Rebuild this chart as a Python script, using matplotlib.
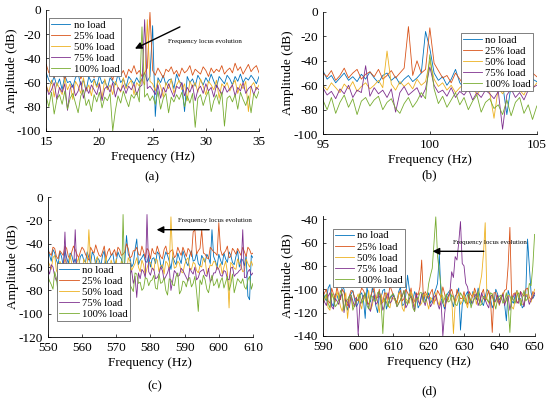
import numpy as np
import matplotlib
matplotlib.use('Agg')
import matplotlib.pyplot as plt

plt.rcParams['font.family'] = ['Liberation Serif', 'DejaVu Serif']
plt.rcParams['xtick.direction'] = 'in'
plt.rcParams['ytick.direction'] = 'in'
plt.rcParams['axes.unicode_minus'] = False

labels = ['no load', '25% load', '50% load', '75% load', '100% load']
colors = ['#0072BD', '#D95319', '#EDB120', '#7E2F8E', '#77AC30']

# ---- (a) 15-35 Hz, step 0.25 Hz ----
freq_a = np.arange(15, 35.001, 0.25)
a_noload = [-52, -58, -61, -55, -63, -57, -66, -54, -60, -59,
            -64, -56, -53, -62, -58, -67, -55, -60, -57, -63,
            -54, -61, -58, -65, -56, -59, -62, -53, -60, -57,
            -64, -55, -58, -61, -56, -60, -57, -52, -59, -55,
            -13, -88, -56, -60, -54, -62, -58, -57, -65, -53,
            -59, -61, -84, -55, -60, -57, -63, -54, -58, -62,
            -56, -60, -53, -59, -64, -55, -58, -61, -54, -57,
            -62, -55, -59, -53, -60, -56, -58, -54, -57, -61,
            -55]
a_25 = [-45, -52, -50, -56, -48, -54, -51, -58, -49, -53,
        -55, -50, -47, -57, -52, -49, -54, -51, -56, -48,
        -53, -50, -55, -49, -52, -58, -47, -51, -54, -50,
        -56, -49, -52, -46, -53, -50, -55, -52, -48, -2,
        -50, -54, -48, -52, -56, -49, -51, -47, -53, -50,
        -55, -48, -52, -50, -46, -54, -49, -51, -53, -47,
        -50, -55, -48, -52, -49, -51, -46, -53, -50, -48,
        -52, -44, -50, -47, -53, -49, -45, -51, -48, -46,
        -52]
a_50 = [-62, -68, -58, -72, -60, -65, -70, -57, -66, -61,
        -74, -59, -63, -69, -56, -67, -62, -71, -58, -64,
        -60, -73, -57, -66, -62, -70, -59, -64, -68, -56,
        -65, -61, -58, -70, -60, -63, -57, -62, -8, -59,
        -61, -67, -58, -63, -72, -60, -65, -57, -69, -62,
        -58, -66, -61, -75, -59, -64, -60, -68, -57, -63,
        -70, -59, -62, -66, -58, -73, -61, -64, -60, -67,
        -62, -58, -69, -61, -65, -59, -84, -63, -60, -66,
        -62]
a_75 = [-63, -70, -66, -60, -74, -64, -68, -61, -83, -65,
        -62, -71, -67, -59, -73, -64, -69, -62, -66, -70,
        -61, -75, -65, -63, -68, -60, -72, -64, -67, -62,
        -69, -63, -66, -61, -70, -64, -62, -8, -65, -63,
        -66, -70, -62, -73, -64, -68, -61, -67, -72, -63,
        -65, -60, -71, -64, -68, -62, -75, -66, -63, -69,
        -61, -67, -64, -72, -62, -66, -70, -63, -68, -65,
        -62, -71, -64, -67, -60, -69, -65, -63, -70, -64,
        -66]
a_100 = [-72, -80, -68, -86, -74, -70, -78, -67, -82, -73,
         -69, -77, -85, -71, -66, -79, -74, -84, -70, -76,
         -68, -81, -72, -75, -69, -100, -83, -71, -77, -67,
         -74, -80, -70, -73, -68, -76, -14, -72, -69, -75,
         -71, -78, -67, -82, -73, -69, -85, -72, -76, -70,
         -74, -68, -80, -71, -77, -69, -97, -73, -70, -79,
         -72, -67, -84, -75, -70, -78, -68, -96, -73, -71,
         -76, -70, -82, -68, -74, -79, -71, -85, -69, -73,
         -67]

# ---- (b) 95-105 Hz, step 0.2 Hz ----
freq_b = np.arange(95, 105.001, 0.2)
b_noload = [-48, -55, -52, -58, -54, -50, -56, -53, -57, -51,
            -55, -49, -54, -58, -52, -50, -56, -53, -59, -55,
            -52, -57, -54, -50, -16, -30, -50, -56, -53, -60,
            -55, -47, -58, -62, -56, -60, -54, -65, -58, -61,
            -57, -63, -59, -84, -60, -56, -62, -58, -61, -55, -57]
b_25 = [-50, -53, -48, -56, -52, -46, -54, -50, -47, -55,
        -51, -49, -53, -47, -55, -52, -48, -54, -50, -46,
        -12, -52, -40, -50, -47, -13, -42, -48, -54, -52,
        -58, -50, -55, -60, -53, -57, -62, -56, -59, -54,
        -61, -57, -63, -58, -55, -60, -56, -52, -58, -50, -53]
b_50 = [-60, -64, -58, -62, -66, -59, -63, -57, -65, -61,
        -58, -63, -60, -56, -62, -32, -59, -64, -57, -61,
        -58, -63, -55, -60, -57, -40, -55, -61, -58, -64,
        -60, -66, -62, -59, -65, -61, -68, -63, -60, -66,
        -87, -62, -67, -61, -65, -59, -64, -68, -60, -63, -58]
b_75 = [-62, -68, -65, -71, -63, -67, -60, -70, -64, -66,
        -44, -69, -62, -67, -64, -70, -63, -82, -66, -61,
        -68, -65, -62, -70, -63, -45, -60, -66, -64, -69,
        -62, -70, -65, -68, -63, -72, -66, -70, -64, -67,
        -71, -65, -96, -68, -63, -70, -66, -72, -64, -62, -60]
b_100 = [-72, -80, -70, -83, -74, -68, -78, -71, -84, -73,
         -70, -77, -72, -69, -80, -74, -71, -79, -83, -75,
         -70, -78, -73, -66, -71, -35, -63, -75, -69, -78,
         -72, -66, -76, -70, -80, -73, -68, -82, -74, -71,
         -79, -76, -84, -72, -85, -74, -70, -83, -76, -88, -77]

# ---- (c) 550-610 Hz: values at whole Hz and at the half-Hz points between ----
freq_c = np.arange(550, 610.01, 0.5)
c_noload = [-42, -55, -48, -58, -51, -46, -57, -50, -53, -60,
            -49, -56, -52, -47, -58, -54, -50, -61, -53, -48,
            -55, -51, -59, -33, -52, -57, -36, -54, -49, -56,
            -60, -52, -47, -58, -53, -50, -62, -55, -48, -57,
            -51, -59, -46, -54, -57, -50, -56, -52, -28, -55,
            -49, -58, -53, -47, -56, -51, -60, -54, -50, -88,
            -52]
c_noload_half = [-50, -45, -54, -47, -59, -52, -48, -56, -61, -51,
                 -54, -47, -57, -50, -52, -59, -46, -55, -50, -58,
                 -47, -53, -56, -49, -60, -45, -58, -52, -55, -50,
                 -53, -57, -49, -61, -47, -55, -51, -58, -53, -46,
                 -56, -50, -55, -48, -59, -53, -49, -57, -51, -60,
                 -54, -48, -56, -50, -58, -46, -53, -59, -85, -50]
c_25 = [-46, -50, -44, -53, -48, -42, -51, -47, -45, -52,
        -43, -49, -54, -46, -41, -50, -47, -53, -44, -48,
        -51, -45, -49, -40, -52, -46, -43, -50, -47, -44,
        -53, -48, -42, -51, -45, -49, -46, -52, -43, -50,
        -47, -44, -51, -28, -46, -28, -49, -53, -45, -48,
        -22, -50, -46, -52, -44, -49, -47, -43, -51, -45,
        -48]
c_25_half = [-48, -43, -51, -46, -50, -44, -53, -42, -49, -47,
             -45, -52, -43, -48, -46, -51, -42, -47, -50, -45,
             -43, -50, -47, -44, -51, -46, -49, -42, -52, -46,
             -44, -49, -47, -53, -42, -48, -45, -50, -47, -43,
             -51, -46, -30, -49, -44, -48, -52, -43, -47, -50,
             -45, -48, -42, -51, -46, -44, -50, -47, -43, -49]
c_50 = [-55, -62, -50, -66, -58, -53, -64, -57, -60, -52,
        -67, -56, -28, -61, -54, -63, -58, -51, -65, -59,
        -53, -62, -57, -68, -55, -60, -52, -64, -58, -61,
        -56, -63, -54, -59, -66, -57, -17, -61, -55, -64,
        -58, -52, -62, -57, -65, -60, -54, -63, -59, -56,
        -61, -66, -55, -95, -58, -62, -57, -64, -53, -60,
        -59]
c_50_half = [-58, -52, -63, -55, -60, -57, -50, -62, -56, -64,
             -53, -59, -55, -65, -51, -60, -57, -63, -54, -61,
             -66, -55, -59, -52, -63, -57, -60, -54, -67, -56,
             -61, -53, -64, -58, -55, -62, -52, -60, -57, -65,
             -54, -61, -56, -63, -59, -52, -66, -58, -55, -62,
             -57, -60, -64, -56, -61, -53, -59, -63, -57, -55]
c_75 = [-62, -58, -68, -65, -60, -30, -70, -63, -28, -66,
        -61, -71, -64, -59, -67, -62, -72, -60, -65, -69,
        -63, -58, -68, -61, -66, -74, -86, -70, -64, -15,
        -67, -62, -69, -60, -71, -65, -80, -63, -68, -61,
        -66, -72, -64, -60, -69, -63, -67, -61, -70, -65,
        -62, -68, -64, -71, -60, -66, -63, -28, -69, -62,
        -65]
c_75_half = [-66, -60, -72, -58, -64, -69, -61, -67, -63, -70,
             -65, -60, -68, -63, -74, -66, -61, -69, -64, -62,
             -70, -65, -60, -71, -63, -68, -65, -62, -69, -64,
             -61, -70, -66, -63, -68, -60, -72, -65, -67, -63,
             -69, -61, -66, -71, -64, -62, -68, -73, -65, -60,
             -67, -63, -70, -61, -68, -65, -62, -69, -64, -67]
c_100 = [-68, -75, -64, -82, -70, -66, -78, -72, -85, -69,
         -74, -67, -80, -71, -76, -65, -79, -73, -68, -83,
         -70, -77, -15, -69, -75, -81, -66, -73, -78, -70,
         -72, -67, -79, -74, -69, -84, -71, -76, -65, -80,
         -73, -70, -77, -68, -98, -75, -71, -82, -67, -74,
         -78, -69, -73, -80, -66, -76, -72, -70, -79, -68,
         -74]
c_100_half = [-72, -79, -70, -76, -68, -84, -73, -66, -77, -71,
              -80, -69, -74, -82, -70, -76, -68, -78, -72, -75,
              -67, -81, -73, -70, -78, -65, -74, -80, -69, -76,
              -71, -78, -66, -73, -80, -70, -75, -68, -83, -72,
              -77, -69, -74, -81, -71, -67, -79, -73, -76, -70,
              -72, -78, -68, -75, -82, -70, -74, -77, -71, -79]

# ---- (d) 590-650 Hz: values at whole Hz and at the half-Hz points between ----
freq_d = np.arange(590, 650.01, 0.5)
d_noload = [-102, -110, -96, -115, -105, -108, -100, -118, -104, -109,
            -112, -103, -125, -107, -99, -114, -106, -101, -117, -108,
            -104, -111, -98, -113, -88, -107, -102, -116, -105, -110,
            -103, -109, -100, -70, -112, -106, -101, -115, -104, -135,
            -108, -102, -113, -105, -99, -111, -107, -103, -116, -100,
            -109, -104, -127, -106, -112, -101, -108, -114, -57, -103,
            -105]
d_noload_half = [-107, -99, -112, -104, -110, -97, -113, -106, -101, -115,
                 -105, -109, -98, -111, -103, -120, -107, -100, -112, -106,
                 -109, -102, -114, -105, -100, -110, -106, -113, -103, -108,
                 -112, -104, -95, -108, -117, -103, -110, -106, -99, -113,
                 -105, -111, -102, -109, -106, -114, -100, -108, -112, -104,
                 -107, -113, -101, -110, -105, -109, -116, -103, -80, -108]
d_25 = [-106, -100, -112, -104, -98, -109, -103, -114, -101, -107,
        -110, -99, -105, -113, -102, -108, -100, -111, -104, -97,
        -106, -112, -101, -108, -103, -99, -110, -105, -75, -102,
        -107, -100, -109, -104, -98, -111, -103, -106, -100, -108,
        -102, -113, -105, -99, -107, -104, -110, -101, -137, -103,
        -111, -105, -100, -47, -104, -112, -102, -106, -99, -109,
        -104]
d_25_half = [-103, -110, -99, -108, -105, -100, -112, -106, -102, -109,
             -104, -101, -111, -106, -99, -107, -113, -103, -109, -101,
             -108, -104, -110, -100, -106, -112, -103, -98, -108, -105,
             -103, -111, -101, -107, -104, -109, -100, -112, -105, -108,
             -110, -102, -107, -104, -112, -100, -106, -109, -103, -111,
             -106, -101, -80, -108, -103, -110, -104, -100, -107, -102]
d_50 = [-112, -105, -118, -108, -102, -115, -110, -125, -106, -113,
        -104, -117, -109, -101, -114, -107, -120, -111, -103, -116,
        -108, -113, -105, -119, -110, -102, -115, -107, -112, -104,
        -117, -109, -103, -114, -106, -111, -101, -138, -108, -113,
        -105, -116, -110, -102, -107, -88, -43, -112, -104, -109,
        -114, -103, -110, -106, -117, -101, -109, -113, -105, -111,
        -100]
d_50_half = [-109, -116, -104, -111, -107, -119, -103, -110, -115, -108,
             -112, -105, -113, -118, -106, -111, -104, -109, -114, -107,
             -110, -103, -116, -108, -112, -106, -109, -114, -105, -111,
             -107, -113, -110, -104, -115, -108, -106, -112, -103, -110,
             -111, -107, -104, -113, -96, -70, -108, -110, -114, -106,
             -108, -112, -105, -115, -109, -107, -113, -104, -110, -106]
d_75 = [-108, -114, -103, -117, -110, -106, -120, -111, -105, -115,
        -139, -109, -104, -116, -110, -113, -102, -118, -107, -112,
        -105, -115, -109, -101, -113, -106, -119, -110, -104, -114,
        -108, -112, -105, -117, -140, -109, -103, -90, -75, -42,
        -80, -98, -111, -106, -114, -103, -109, -116, -105, -110,
        -113, -104, -108, -118, -106, -111, -102, -115, -107, -109,
        -103]
d_75_half = [-111, -106, -115, -108, -113, -104, -109, -116, -110, -107,
             -113, -106, -110, -119, -105, -111, -108, -114, -103, -110,
             -109, -112, -106, -116, -108, -111, -104, -113, -109, -106,
             -115, -107, -112, -110, -121, -106, -85, -72, -60, -78,
             -95, -107, -112, -104, -110, -108, -113, -106, -111, -105,
             -109, -114, -106, -110, -104, -112, -108, -105, -113, -107]
d_100 = [-110, -104, -116, -107, -113, -101, -118, -109, -105, -114,
         -108, -112, -103, -117, -106, -110, -102, -138, -111, -107,
         -104, -115, -109, -101, -113, -106, -119, -108, -103, -111,
         -95, -82, -38, -85, -112, -104, -110, -107, -114, -103,
         -109, -105, -116, -108, -102, -113, -107, -111, -104, -117,
         -106, -112, -103, -137, -109, -105, -114, -101, -108, -97,
         -53]
d_100_half = [-107, -112, -103, -115, -109, -105, -111, -106, -118, -110,
              -104, -109, -114, -106, -110, -103, -112, -108, -115, -105,
              -109, -112, -106, -110, -104, -116, -108, -103, -111, -107,
              -88, -60, -72, -98, -108, -111, -105, -113, -109, -106,
              -112, -104, -110, -107, -114, -106, -109, -103, -111, -108,
              -105, -110, -115, -106, -112, -103, -108, -110, -95, -80]


def weave(whole, half):
    out = np.empty(len(whole) + len(half))
    out[0::2] = whole
    out[1::2] = half
    return out


panels = [
    dict(pos=[0.084, 0.671, 0.387, 0.304], f=freq_a, ys=[a_noload, a_25, a_50, a_75, a_100],
         xlim=(15, 35), xt=[15, 20, 25, 30, 35], ylim=(-100, 0), yt=range(-100, 1, 20),
         leg=(0.089, 0.955), tag='(a)', tagxy=(152, 177), ylx=-0.160,
         arrow=((27.8, -13), (23.1, -33)), txt=(26.4, -26)),
    dict(pos=[0.587, 0.663, 0.389, 0.307], f=freq_b, ys=[b_noload, b_25, b_50, b_75, b_100],
         xlim=(95, 105), xt=[95, 100, 105], ylim=(-100, 0), yt=range(-100, 1, 20),
         leg=(0.838, 0.917), tag='(b)', tagxy=(429, 175), ylx=-0.164, arrow=None, txt=None),
    dict(pos=[0.087, 0.153, 0.373, 0.352], f=freq_c,
         ys=[weave(c_noload, c_noload_half), weave(c_25, c_25_half), weave(c_50, c_50_half),
             weave(c_75, c_75_half), weave(c_100, c_100_half)],
         xlim=(550, 610), xt=range(550, 611, 10), ylim=(-120, 0), yt=range(-120, 1, 20),
         leg=(0.104, 0.339), tag='(c)', tagxy=(155, 386), ylx=-0.171,
         arrow=((598, -28), (581, -28)), txt=(588.2, -20)),
    dict(pos=[0.587, 0.156, 0.385, 0.302], f=freq_d,
         ys=[weave(d_noload, d_noload_half), weave(d_25, d_25_half), weave(d_50, d_50_half),
             weave(d_75, d_75_half), weave(d_100, d_100_half)],
         xlim=(590, 650), xt=range(590, 651, 10), ylim=(-140, -37), yt=range(-140, -39, 20),
         leg=(0.605, 0.425), tag='(d)', tagxy=(429, 391), ylx=-0.165,
         arrow=((636.4, -67.5), (620.3, -67.5)), txt=(627, -60)),
]

fig = plt.figure(figsize=(5.5, 3.98), dpi=100)
for p in panels:
    ax = fig.add_axes(p['pos'])
    for y, c, lab in zip(p['ys'], colors, labels):
        ax.plot(p['f'], y, color=c, lw=0.6, label=lab)
    ax.set_xlim(*p['xlim'])
    ax.set_ylim(*p['ylim'])
    ax.set_xticks(list(p['xt']))
    ax.set_yticks(list(p['yt']))
    ax.tick_params(labelsize=9.5, length=2.5, width=0.5)
    for s in ['top', 'right']:
        ax.spines[s].set_visible(False)
    for s in ['left', 'bottom']:
        ax.spines[s].set_linewidth(0.6)
    ax.set_xlabel('Frequency (Hz)', fontsize=9.5, labelpad=2)
    ax.set_ylabel('Amplitude (dB)', fontsize=9.5, va='center')
    ax.yaxis.set_label_coords(p['ylx'], 0.5)
    leg = ax.legend(loc='upper left', bbox_to_anchor=p['leg'], bbox_transform=fig.transFigure,
                    fontsize=7.7, handlelength=1.8, handletextpad=0.3, labelspacing=0.15,
                    borderpad=0.2, borderaxespad=0, fancybox=False, framealpha=1)
    leg.get_frame().set_edgecolor('0.3')
    leg.get_frame().set_linewidth(0.5)
    if p['arrow'] is not None:
        tail, head = p['arrow']
        ax.annotate('', xy=head, xytext=tail,
                    arrowprops=dict(arrowstyle='-|>', color='k', lw=1, mutation_scale=10))
        ax.text(p['txt'][0], p['txt'][1], 'Frequency locus evolution', fontsize=5, va='center')
    fig.text(p['tagxy'][0] / 550, 1 - p['tagxy'][1] / 398, p['tag'], fontsize=9.5,
             ha='center', va='center')

fig.savefig('out.png', dpi=100)
